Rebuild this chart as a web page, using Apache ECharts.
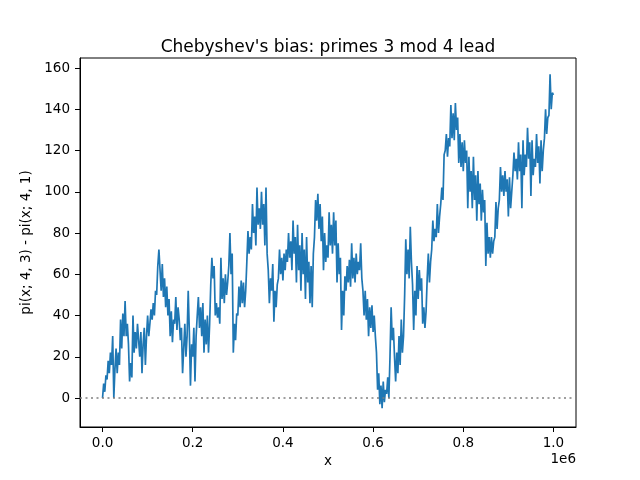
<!DOCTYPE html>
<html>
<head>
<meta charset="utf-8">
<script src="https://cdn.jsdelivr.net/npm/echarts@6/dist/echarts.min.js"></script>
<style>
  html, body { margin: 0; padding: 0; background: #fff; }
  #chart { width: 640px; height: 480px; }
</style>
</head>
<body>
<div id="chart"></div>
<script>
// values, one every 2.5k of x (x given in thousands)
var xStart = 0;
var xStep = 2.5;
var bias = [
    0, 7, 3, 11,   9, 18, 12, 22,   16, 30, 0, 14,   24, 12, 22, 16,   38, 24, 41, 30,
    47, 30, 36, 26,   8, 17, 10, 40,   22, 32, 24, 36,   28, 20, 32, 12,   26, 34, 16, 30,
    40, 30, 36, 43,   38, 46, 40, 52,   50, 64, 72, 62,   52, 65, 49, 58,   44, 54, 40, 48,
    30, 42, 27, 38,   36, 49, 33, 44,   38, 28, 34, 12,   24, 36, 20, 30,   52, 32, 6, 26,
    20, 34, 8, 30,   40, 49, 34, 44,   30, 46, 22, 38,   26, 40, 22, 36,   55, 68, 58, 64,
    40, 46, 39, 44,   36, 68, 48, 58,   46, 60, 50, 56,   64, 80, 60, 70,   22, 36, 28, 41,
    40, 54, 44, 57,   46, 56, 44, 52,   66, 81, 70, 78,   72, 94, 80, 88,   74, 102, 84, 92,
    82, 100, 84, 94,   74, 102, 70, 62,   46, 58, 52, 65,   37, 52, 44, 55,   58, 72, 60, 68,
    57, 70, 62, 72,   66, 80, 68, 76,   62, 86, 70, 78,   56, 84, 62, 74,   52, 80, 60, 72,
    48, 78, 56, 66,   46, 64, 44, 70,   78, 96, 86, 99,   82, 94, 76, 88,   62, 80, 66, 74,
    68, 90, 74, 84,   70, 90, 74, 86,   56, 75, 60, 68,   33, 52, 40, 59,   52, 64, 56, 67,
    54, 75, 58, 68,   56, 70, 60, 66,   62, 75, 58, 52,   40, 52, 38, 48,   30, 44, 34, 45,
    32, 40, 30, 22,   4, 12, -3, 6,   -5, 8, -2, 4,   2, 10, 0, 20,   44, 28, 34, 20,
    8, 22, 12, 30,   16, 38, 22, 30,   50, 77, 60, 72,   58, 83, 66, 55,   33, 52, 40, 64,
    48, 62, 52, 58,   36, 44, 34, 42,   58, 70, 56, 66,   72, 86, 76, 82,   78, 94, 80, 88,
    94, 102, 96, 118,   120, 128, 117, 126,   122, 142, 126, 138,   125, 143, 130, 136,   114, 128, 112, 124,
    110, 125, 114, 120,   92, 117, 100, 110,   92, 117, 96, 108,   86, 110, 94, 104,   86, 101, 90, 96,
    64, 85, 70, 78,   68, 78, 70, 76,   78, 95, 82, 92,   96, 112, 100, 108,   98, 110, 100, 106,
    88, 107, 92, 100,   108, 119, 110, 116,   106, 124, 110, 118,   92, 125, 108, 118,   112, 131, 116, 124,
    98, 125, 108, 116,   112, 128, 114, 122,   104, 125, 110, 120,   126, 140, 128, 136,   137, 157, 140, 148,
    147
];
var xTicks = [0, 200, 400, 600, 800, 1000];
var yTicks = [0, 20, 40, 60, 80, 100, 120, 140, 160];

var points = [];
for (var i = 0; i < bias.length; i++) {
    points.push([xStart + i * xStep, bias[i]]);
}

var font = 'DejaVu Sans';
var chart = echarts.init(document.getElementById('chart'));
var option = {
    animation: false,
    backgroundColor: '#fff',
    title: {
        text: "Chebyshev's bias: primes 3 mod 4 lead",
        left: 323,
        top: 34,
        textAlign: 'center',
        textStyle: { fontFamily: font, fontSize: 17, fontWeight: 'normal', color: '#000' }
    },
    grid: {
        left: 80, right: 64, top: 58, bottom: 53,
        show: true, borderColor: '#000', borderWidth: 1
    },
    xAxis: {
        type: 'value',
        min: -50, max: 1050,
        name: 'x',
        nameLocation: 'middle',
        nameGap: 27,
        nameTextStyle: { fontFamily: font, fontSize: 13.5, color: '#000' },
        axisLine: { show: true, onZero: false, lineStyle: { color: '#000' } },
        axisTick: { show: true, length: 5, lineStyle: { color: '#000' }, customValues: xTicks },
        axisLabel: {
            fontFamily: font, fontSize: 13.5, color: '#000', margin: 9,
            customValues: xTicks,
            formatter: function (v) { return (v / 1000).toFixed(1); }
        },
        splitLine: { show: false }
    },
    yAxis: {
        type: 'value',
        min: -14.06, max: 164.85,
        name: 'pi(x; 4, 3) - pi(x; 4, 1)',
        nameLocation: 'middle',
        nameRotate: 90,
        nameGap: 38,
        nameTextStyle: { fontFamily: font, fontSize: 13.5, color: '#000' },
        axisLine: { show: true, onZero: false, lineStyle: { color: '#000' } },
        axisTick: { show: true, length: 5, lineStyle: { color: '#000' }, customValues: yTicks },
        axisLabel: { fontFamily: font, fontSize: 13.5, color: '#000', margin: 10, customValues: yTicks },
        splitLine: { show: false }
    },
    graphic: [{
        type: 'text',
        right: 64,
        top: 452,
        style: { text: '1e6', font: '13.5px "DejaVu Sans"', fill: '#000' }
    }],
    series: [{
        type: 'line',
        data: points,
        showSymbol: false,
        lineStyle: { color: '#1f77b4', width: 1.7 },
        markLine: {
            silent: true,
            symbol: 'none',
            label: { show: false },
            lineStyle: { color: '#808080', type: [2, 3.5], width: 1.5 },
            data: [{ yAxis: 0 }]
        }
    }]
};
chart.setOption(option);
</script>
</body>
</html>
